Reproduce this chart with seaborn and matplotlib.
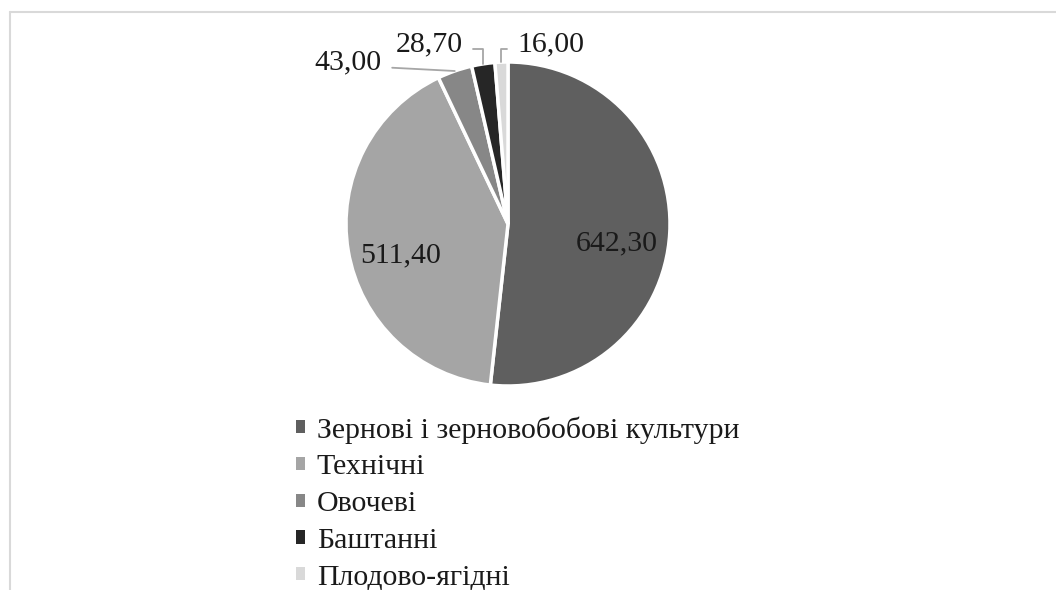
import numpy as np
import matplotlib
matplotlib.use('Agg')
import matplotlib.pyplot as plt
import seaborn as sns
from matplotlib.lines import Line2D
from matplotlib.patches import Patch

# data
categories = ['Зернові і зерновобобові культури', 'Технічні', 'Овочеві', 'Баштанні', 'Плодово-ягідні']
values = [642.30, 511.40, 43.00, 28.70, 16.00]
value_labels = ['642,30', '511,40', '43,00', '28,70', '16,00']
colors = ['#5f5f5f', '#a5a5a5', '#878787', '#262626', '#d9d9d9']

sns.set_theme(style='white')
plt.rcParams['font.family'] = ['Liberation Serif', 'DejaVu Serif']

W, H = 1056, 590
fig = plt.figure(figsize=(W / 100, H / 100), dpi=100)

# pie center and radius in pixels
cx, cy, R = 508, 224, 162
ax = fig.add_axes([0, 0, 1, 1])

wedges, _ = ax.pie(values, colors=colors, startangle=90, counterclock=False,
                   wedgeprops=dict(edgecolor='white', linewidth=2.5))
ax.set_xlim(-cx / R, (W - cx) / R)
ax.set_ylim(-(H - cy) / R, cy / R)
ax.set_axis_off()

fs = 21.5
txt_color = '#1a1a1a'
# inside labels for the two big wedges
for w, lab in zip(wedges[:2], value_labels[:2]):
    mid = np.deg2rad((w.theta1 + w.theta2) / 2)
    x, y = 0.67 * np.cos(mid), 0.67 * np.sin(mid) - 0.085
    ax.text(x, y, lab, ha='center', va='center', fontsize=fs, color=txt_color)

# outside labels with leader lines
text_pos = [(-0.778, 1.0, 'right', 'arc3', (1, 0.3)),
            (-0.278, 1.11, 'right', 'angle,angleA=0,angleB=90,rad=0', (1, 0.3)),
            (0.056, 1.11, 'left', 'angle,angleA=0,angleB=90,rad=0', (0, 0.3))]
for w, lab, (tx, ty, ha, cs, rp) in zip(wedges[2:], value_labels[2:], text_pos):
    mid = np.deg2rad((w.theta1 + w.theta2) / 2)
    px, py = np.cos(mid), np.sin(mid)
    ax.annotate(lab, xy=(px, py), xytext=(tx, ty), ha=ha, va='center',
                fontsize=fs, color=txt_color,
                arrowprops=dict(arrowstyle='-', color='#a6a6a6', lw=1.3,
                                connectionstyle=cs, relpos=rp,
                                shrinkA=5, shrinkB=0))

handles = [Patch(facecolor=c, edgecolor='none') for c in colors]
leg = fig.legend(handles, categories, loc='upper left', bbox_to_anchor=(296 / W, 1 - 416 / H),
                 frameon=False, fontsize=fs, handlelength=0.3, handleheight=0.3,
                 handletextpad=0.4, labelspacing=0.36, borderpad=0, borderaxespad=0)
for t in leg.get_texts():
    t.set_color(txt_color)

# chart frame (partially visible)
fig.add_artist(Line2D([10 / W, 10 / W], [0, 1 - 12 / H], color='#d9d9d9', lw=1.5))
fig.add_artist(Line2D([10 / W, 1], [1 - 12 / H, 1 - 12 / H], color='#d9d9d9', lw=1.5))

fig.savefig('out.png', dpi=100)
